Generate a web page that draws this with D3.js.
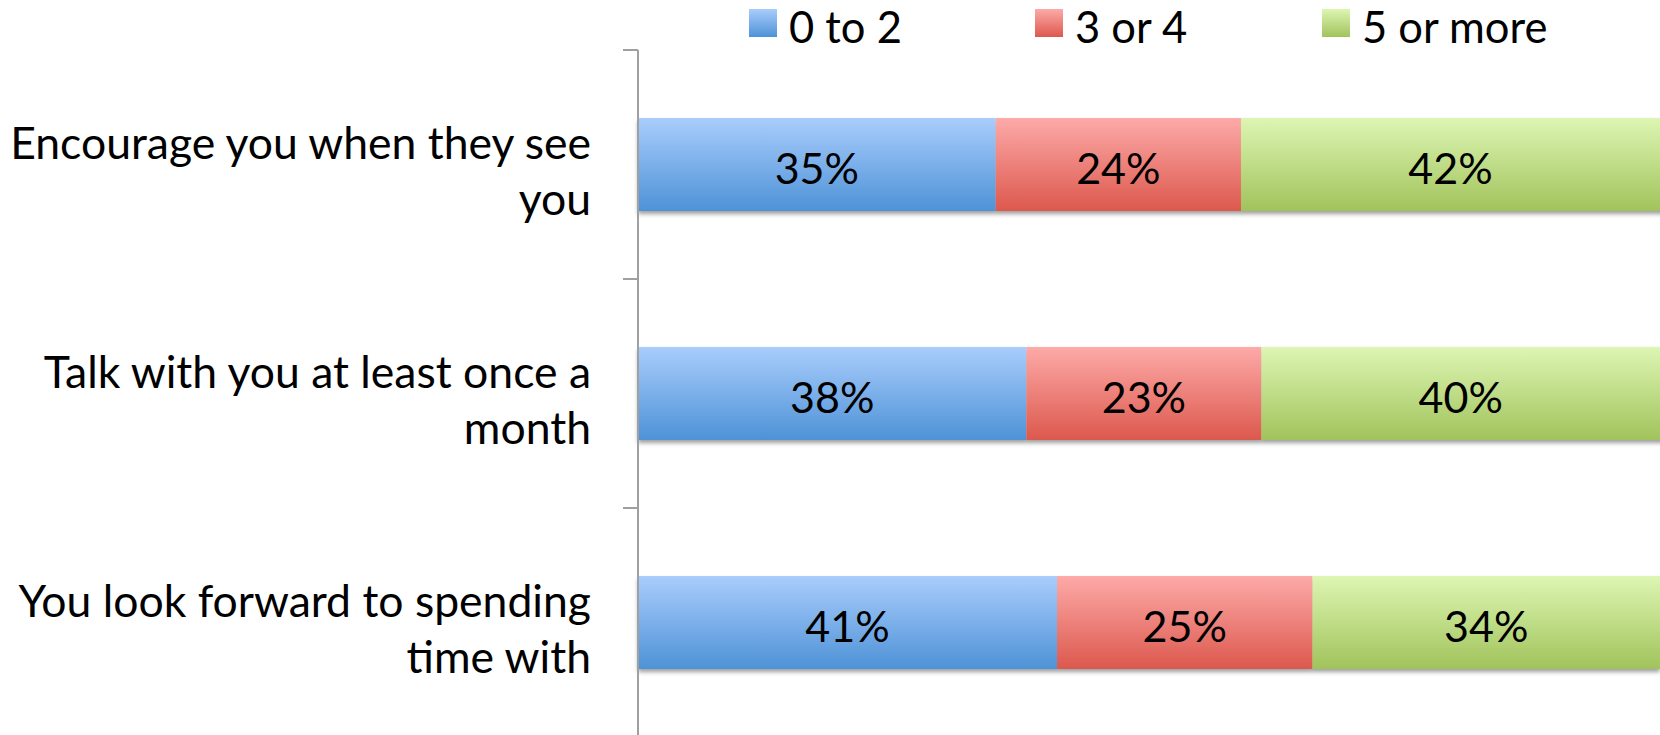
<!DOCTYPE html>
<html>
<head>
<meta charset="utf-8">
<script src="https://cdn.jsdelivr.net/npm/d3@7"></script>
<style>
  html, body { margin: 0; padding: 0; background: #fff; }
  svg { display: block; font-family: Lato, Carlito, Calibri, "Open Sans", sans-serif; }
</style>
</head>
<body>
<svg id="chart" width="1660" height="735"></svg>
<script>
// Stacked 100% horizontal bars: number of people per category
const categories = [
  ["Encourage you when they see", "you"],
  ["Talk with you at least once a", "month"],
  ["You look forward to spending", "time with"]
];
const seriesNames = ["0 to 2", "3 or 4", "5 or more"];
const valsLow  = [35, 38, 41];
const valsMid  = [24, 23, 25];
const valsHigh = [42, 40, 34];
const seriesValues = [valsLow, valsMid, valsHigh];
const gradTop = ["#a9cdfc", "#fdaaa8", "#ddf6b3"];
const gradBot = ["#4e92d7", "#dc584d", "#a1c35b"];

const svg = d3.select("#chart");
const W = 1660, H = 735;
const x0 = 638, x1 = 1660, yTop = 50, yBot = 737;

const x = d3.scaleLinear().domain([0, 100]).range([x0, x1]);
const y = d3.scaleBand().domain(d3.range(categories.length)).range([yTop, yBot])
  .paddingInner(0.594).paddingOuter(0.297);

const defs = svg.append("defs");
seriesNames.forEach((s, i) => {
  const g = defs.append("linearGradient").attr("id", "grad" + i)
    .attr("x1", 0).attr("y1", 0).attr("x2", 0).attr("y2", 1);
  g.append("stop").attr("offset", "0%").attr("stop-color", gradTop[i]);
  g.append("stop").attr("offset", "100%").attr("stop-color", gradBot[i]);
});
const f = defs.append("filter").attr("id", "shadow")
  .attr("x", "-5%").attr("y", "-20%").attr("width", "110%").attr("height", "150%");
f.append("feDropShadow").attr("dx", 0).attr("dy", 3).attr("stdDeviation", 2.2)
  .attr("flood-color", "#000").attr("flood-opacity", 0.38);

// stack the series per category
const rows = categories.map((c, i) => {
  let acc = 0;
  return seriesValues.map((vals, s) => {
    const seg = { cat: i, s, v: vals[i], a: acc, b: acc + vals[i] };
    acc += vals[i];
    return seg;
  });
});

const barG = svg.append("g");
rows.forEach((segs, i) => {
  const g = barG.append("g").attr("filter", "url(#shadow)");
  g.selectAll("rect").data(segs).join("rect")
    .attr("x", d => x(d.a))
    .attr("y", y(i))
    .attr("width", d => x(d.b) - x(d.a))
    .attr("height", y.bandwidth())
    .attr("fill", d => `url(#grad${d.s})`);
});

// value labels
rows.forEach((segs, i) => {
  barG.append("g").selectAll("text").data(segs).join("text")
    .attr("x", d => (x(d.a) + Math.min(x(d.b), W)) / 2)
    .attr("y", y(i) + y.bandwidth() / 2 + 19)
    .attr("text-anchor", "middle")
    .attr("font-size", 43)
    .attr("fill", "#000")
    .text(d => d.v + "%");
});

// category axis
const axisG = svg.append("g");
axisG.append("line").attr("x1", x0).attr("x2", x0).attr("y1", yTop).attr("y2", H)
  .attr("stroke", "#a0a0a0").attr("stroke-width", 2);
const tickYs = d3.range(categories.length + 1).map(k => yTop + k * y.step());
axisG.selectAll("line.tick").data(tickYs).join("line").attr("class", "tick")
  .attr("x1", x0 - 15).attr("x2", x0).attr("y1", d => d).attr("y2", d => d)
  .attr("stroke", "#a0a0a0").attr("stroke-width", 2);

categories.forEach((lines, i) => {
  const cy = y(i) + y.bandwidth() / 2;
  const t = axisG.append("text").attr("text-anchor", "end").attr("font-size", 44.5).attr("fill", "#000");
  lines.forEach((ln, k) => {
    t.append("tspan").attr("x", 591).attr("y", cy - 6 + k * 56).text(ln);
  });
});

// legend
const legendX = [749, 1035, 1322];
const leg = svg.append("g");
seriesNames.forEach((s, i) => {
  leg.append("rect").attr("x", legendX[i]).attr("y", 9).attr("width", 28).attr("height", 28)
    .attr("fill", `url(#grad${i})`);
  leg.append("text").attr("x", legendX[i] + 40).attr("y", 43)
    .attr("font-size", 43.5).attr("fill", "#000").text(s);
});
</script>
</body>
</html>
